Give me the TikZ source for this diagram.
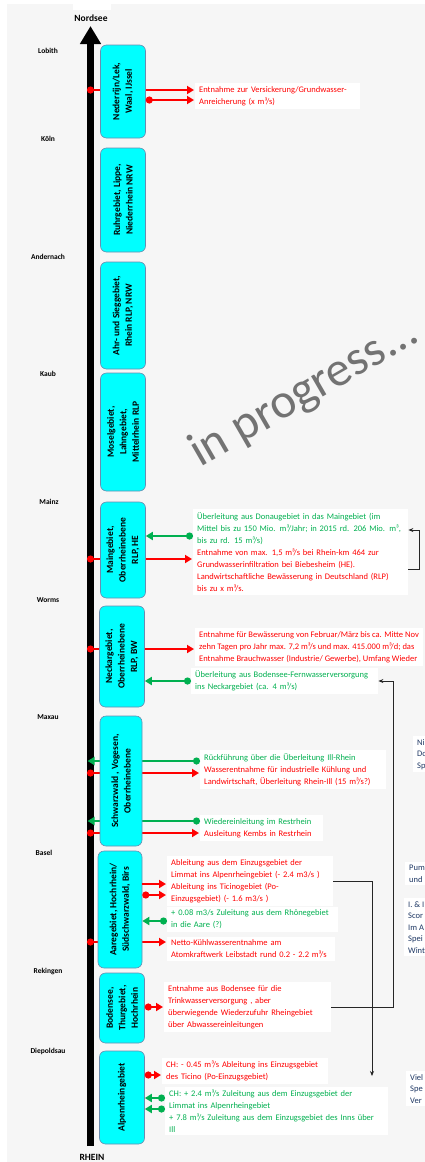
\documentclass[tikz,border=0pt]{standalone}
\usepackage{fontspec}
\setmainfont{Carlito}
\usetikzlibrary{arrows.meta}

\definecolor{hgrau}{HTML}{F6F6F6}
\definecolor{rot}{HTML}{FF0000}
\definecolor{gruen}{HTML}{00B050}
\definecolor{tuerkis}{HTML}{00FFFF}
\definecolor{rahmen}{HTML}{6A8CB0}
\definecolor{nachtblau}{HTML}{1F3864}
\definecolor{marke}{HTML}{737373}

\begin{document}
\begin{tikzpicture}[x=1pt, y=-1pt,
    ort/.style={font=\bfseries\fontsize{7.5}{9}\selectfont},
    gebiet/.style={draw=rahmen, line width=0.6pt, fill=tuerkis, rounded corners=6pt, rotate=90,
      minimum height=45pt, inner sep=1pt, align=center, font=\bfseries\fontsize{9.5}{12.5}\selectfont},
    notiz/.style={fill=white, anchor=west, align=left, inner xsep=4pt, inner ysep=3pt,
      font=\fontsize{8.5}{12}\selectfont},
    extern/.style={notiz, anchor=north west, text=nachtblau, font=\fontsize{8.5}{11.5}\selectfont},
    entnahme/.style={draw=rot, line width=2.5pt, -{Triangle[length=7pt,width=8pt]}, shorten >=1pt},
    ab achse/.style={{Circle[length=7pt]}-{Triangle[length=7pt,width=8pt]}, shorten <=-3.5pt},
    ab box/.style={{Circle[length=7pt]}-{Triangle[length=7pt,width=8pt]}},
    zuleitung/.style={draw=gruen, line width=2.5pt, {Circle[length=7pt]}-{Triangle[length=7pt,width=8pt]}},
    verweis/.style={draw=black!85, line width=1pt, -{Stealth[length=5pt,width=4pt]}}
  ]

    \useasboundingbox (0,0) rectangle (425,1162);
    \clip (0,0) rectangle (425,1162);
    \fill[hgrau] (7,4) rectangle (425,1162);
    \fill[white] (73,0) rectangle (111,10);

    \node[font=\fontsize{49}{49}\selectfont, text=marke, rotate=30, anchor=base west, inner sep=0pt] (wip) at (200,468) {in progress...};

    % Rhein
    \coordinate (muendung) at (90.5,26);
    \coordinate (quelle)   at (90.5,1146);
    \draw[line width=6.5pt, -{Triangle[length=18pt,width=20pt]}] (quelle) -- (muendung);
    \node[font=\bfseries\fontsize{9.5}{11}\selectfont] (nordsee) at (91,18)   {Nordsee};
    \node[font=\bfseries\fontsize{9.5}{11}\selectfont] (rhein)   at (92,1157) {RHEIN};

    \node[ort] (lobith)     at (48,51)   {Lobith};
    \node[ort] (koeln)      at (48,139)  {Köln};
    \node[ort] (andernach)  at (48,257)  {Andernach};
    \node[ort] (kaub)       at (48,374)  {Kaub};
    \node[ort] (mainz)      at (49,502)  {Mainz};
    \node[ort] (worms)      at (48,600)  {Worms};
    \node[ort] (maxau)      at (48,717)  {Maxau};
    \node[ort] (basel)      at (44,853)  {Basel};
    \node[ort] (rekingen)   at (48,971)  {Rekingen};
    \node[ort] (diepoldsau) at (48,1051) {Diepoldsau};

    % Hoehen der Pfeile
    \coordinate (nr1) at (90.5,90);
    \coordinate (nr2) at (90.5,100);
    \coordinate (mn1) at (90.5,536);
    \coordinate (mn2) at (90.5,559);
    \coordinate (nk1) at (90.5,649);
    \coordinate (nk2) at (90.5,681);
    \coordinate (sw1) at (90.5,761);
    \coordinate (sw2) at (90.5,773);
    \coordinate (sw3) at (90.5,821);
    \coordinate (sw4) at (90.5,833);
    \coordinate (aa1) at (90.5,884);
    \coordinate (aa2) at (90.5,895);
    \coordinate (aa3) at (90.5,921);
    \coordinate (aa4) at (90.5,942);
    \coordinate (bo1) at (90.5,1007);
    \coordinate (al1) at (90.5,1075);
    \coordinate (al2) at (90.5,1098);
    \coordinate (al3) at (90.5,1109);

    \node[notiz, text=rot, text width=157pt] (t1) at (195,96)
      {Entnahme zur Versickerung/Grundwasser-\\Anreicherung (x m³/s)};
    \node[notiz, text width=207pt] (t5) at (193,552)
      {\color{gruen}Überleitung aus Donaugebiet in das Maingebiet (im\\
       Mittel bis zu 150 Mio. m³/Jahr; in 2015 rd. 206 Mio. m³,\\
       bis zu rd. 15 m³/s)\\
       \color{rot}Entnahme von max. 1,5 m³/s bei Rhein-km 464 zur\\
       Grundwasserinfiltration bei Biebesheim (HE).\\
       Landwirtschaftliche Bewässerung in Deutschland (RLP)\\
       bis zu x m³/s.};
    \node[notiz, text=rot] (t6a) at (195,647)
      {Entnahme für Bewässerung von Februar/März bis ca. Mitte Nov\\
       zehn Tagen pro Jahr max. 7,2 m³/s und max. 415.000 m³/d; das\\
       Entnahme Brauchwasser (Industrie/ Gewerbe), Umfang Wieder};
    \node[notiz, text=gruen, text width=179pt] (t6b) at (191,681)
      {Überleitung aus Bodensee-Fernwasserversorgung\\ ins Neckargebiet (ca. 4 m³/s)};
    \node[notiz, text width=178pt] (t7a) at (200,769.5)
      {\color{gruen}Rückführung über die Überleitung Ill-Rhein\\
       \color{rot}Wasserentnahme für industrielle Kühlung und\\
       Landwirtschaft, Überleitung Rhein-Ill (15 m³/s?)};
    \node[notiz, text width=115pt] (t7b) at (200,828)
      {\color{gruen}Wiedereinleitung im Restrhein\\
       \color{rot}Ausleitung Kembs in Restrhein};
    \node[notiz, text=rot, text width=158pt] (t8a) at (167,881)
      {Ableitung aus dem Einzugsgebiet der\\
       Limmat ins Alpenrheingebiet (- 2.4 m3/s )\\
       Ableitung ins Ticinogebiet (Po-\\
       Einzugsgebiet) (- 1.6 m3/s )};
    \node[notiz, text=gruen, text width=163pt] (t8b) at (167,919.5)
      {+ 0.08 m3/s Zuleitung aus dem Rhônegebiet\\in die Aare (?)};
    \node[notiz, text=rot, text width=160pt] (t8c) at (167,949)
      {Netto-Kühlwasserentnahme am\\Atomkraftwerk Leibstadt rund 0.2 - 2.2 m³/s};
    \node[notiz, text=rot, text width=159pt] (t9) at (164,1007)
      {Entnahme aus Bodensee für die\\
       Trinkwasserversorgung , aber\\
       überwiegende Wiederzufuhr Rheingebiet\\
       über Abwassereinleitungen};
    \node[notiz, text=rot, text width=158pt] (t10a) at (162,1071)
      {CH: - 0.45 m³/s Ableitung ins Einzugsgebiet\\des Ticino (Po-Einzugsgebiet)};
    \node[notiz, text=gruen, text width=215pt] (t10b) at (165,1111)
      {CH: + 2.4 m³/s Zuleitung aus dem Einzugsgebiet der\\
       Limmat ins Alpenrheingebiet\\
       + 7.8 m³/s Zuleitung aus dem Einzugsgebiet des Inns über\\
       Ill};

    \node[extern] (x1) at (413,736)  {Ni\\Do\\Sp};
    \node[extern] (x2) at (405,862)  {Pum\\und};
    \node[extern] (x3) at (404,898)  {I. \& I\\Scor\\Im A\\Spei\\Wint};
    \node[extern] (x4) at (406,1071) {Viel\\Spe\\Ver};

    % Pfeile durch die Gebiete hindurch
    \draw (nr1) edge[entnahme, ab achse] (nr1 -| t1.west);
    \draw (mn2) edge[entnahme, ab achse] (mn2 -| t5.west);
    \draw (nk1) edge[entnahme, ab achse] (nk1 -| t6a.west);
    \draw (sw1 -| t7a.west) edge[zuleitung, shorten >=-3pt] (sw1);
    \draw (sw2) edge[entnahme, ab achse] (sw2 -| t7a.west);
    \draw (sw3 -| t7b.west) edge[zuleitung, shorten >=-3pt] (sw3);
    \draw (sw4) edge[entnahme, ab achse] (sw4 -| t7b.west);
    \draw (aa4) edge[entnahme, ab achse] (aa4 -| t8c.west);

    % gedreht: south = rechte Kante
    \node[gebiet, minimum width=93pt]  (ndr)     at (123,91.5)   {Nederrijn/Lek,\\Waal, IJssel};
    \node[gebiet, minimum width=104pt] (ruhr)    at (123,200)    {Ruhrgebiet, Lippe,\\Niederrhein NRW};
    \node[gebiet, minimum width=107pt] (ahr)     at (123,315.5)  {Ahr- und Sieggebiet,\\Rhein RLP, NRW};
    \node[gebiet, minimum width=118pt] (mosel)   at (123,432)    {Moselgebiet,\\Lahngebiet,\\Mittelrhein RLP};
    \node[gebiet, minimum width=96pt]  (main)    at (123,550)    {Maingebiet,\\Oberrheinebene\\RLP, HE};
    \node[gebiet, minimum width=101pt] (neckar)  at (122,656.5)  {Neckargebiet,\\Oberrheinebene\\RLP, BW};
    \node[gebiet, minimum width=130pt, minimum height=42pt] (schwarz) at (121,781) {Schwarzwald , Vogesen,\\Oberrheinebene};
    \node[gebiet, minimum width=117pt, minimum height=44pt] (aare)    at (120,909.5) {Aaregebiet, Hochrhein/\\Südschwarzwald, Birs};
    \node[gebiet, minimum width=70pt]  (bod)     at (122,1008)   {Bodensee,\\Thurgebiet,\\Hochrhein};
    \node[gebiet, minimum width=93pt]  (alp)     at (122,1097.5) {Alpenrheingebiet};

    % Pfeile ab Gebietsrand
    \draw (nr2 -| ndr.south) edge[entnahme, ab box] (nr2 -| t1.west);
    \draw (mn1 -| t5.west) edge[zuleitung] (mn1 -| main.south);
    \draw (nk2 -| t6b.west) edge[zuleitung] (nk2 -| neckar.south);
    \draw (aa1 -| aare.south) edge[entnahme] (aa1 -| t8a.west);
    \draw (aa2 -| aare.south) edge[entnahme, ab box] (aa2 -| t8a.west);
    \draw (aa3 -| t8b.west) edge[zuleitung] (aa3 -| aare.south);
    \draw (bo1 -| bod.south) edge[entnahme, ab box] (bo1 -| t9.west);
    \draw (al1 -| alp.south) edge[entnahme, ab box] (al1 -| t10a.west);
    \draw (al2 -| t10b.west) edge[zuleitung] (al2 -| alp.south);
    \draw (al3 -| t10b.west) edge[zuleitung] (al3 -| alp.south);

    % Verweise
    \coordinate (limmat) at (372,1076);
    \draw[verweis] ([yshift=-17pt]t5.east) -- ++(11,0) |- ([yshift=22pt]t5.east);
    \draw[verweis] (t9.east) -- ++(62,0) |- (t6b.east);
    \draw[verweis] (t8a.east) -| (limmat);
  \end{tikzpicture}
\end{document}
